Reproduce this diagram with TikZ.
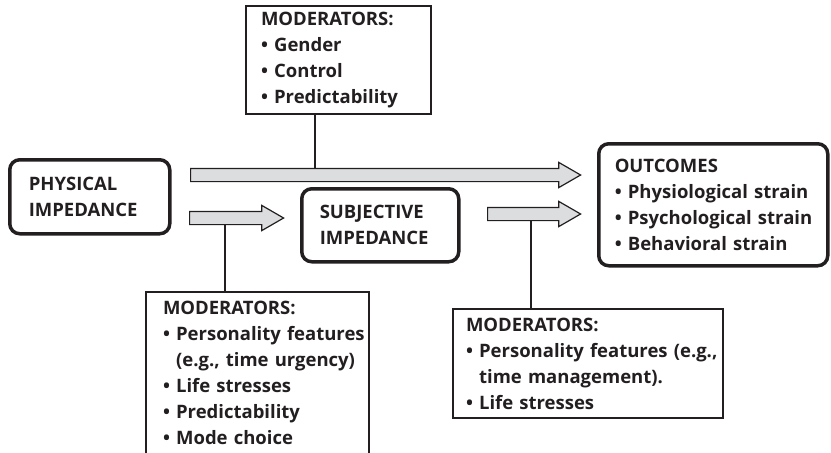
\documentclass[tikz,border=0pt]{standalone}
\usepackage{fontspec}
\setmainfont{Open Sans}
\usepackage{tikz}
\usetikzlibrary{shapes.arrows,positioning}
\definecolor{ink}{HTML}{231F20}
\definecolor{arrowgray}{HTML}{DCDDDE}
% one unbroken line of a list, with or without its bullet
\newcommand{\itm}[1]{\mbox{\textbullet\ #1}}
\newcommand{\cont}[1]{\mbox{\hphantom{\textbullet\ }#1}}
\tikzset
{
    boxtext/.style  = {font=\bfseries\fontsize{18.5}{26}\selectfont, text=ink, align=left, inner sep=0pt},
    stagebox/.style = {boxtext, draw=ink, line width=3.5pt, rounded corners=10pt, anchor=north west},
    modbox/.style   = {boxtext, draw=ink, line width=2pt, anchor=north west},
    flowarrow/.style = {single arrow, draw=ink, fill=arrowgray, line width=1.2pt, inner xsep=0pt, inner ysep=6pt,
                        single arrow head extend=6pt, single arrow tip angle=60, anchor=tail},
    link/.style     = {draw=ink, line width=1.2pt}
}

\begin{document}
\begin{tikzpicture}[x=1pt, y=-1pt]
    \useasboundingbox (0,0) rectangle (831,453);
    \clip (0,0) rectangle (831,453);

    % impedance stages and outcomes
    \node [stagebox, minimum width=160pt, minimum height=74pt, text width=160pt-38pt] (physical) at (8,158)
        {PHYSICAL\\IMPEDANCE};
    \node [stagebox, minimum width=157pt, minimum height=73pt, text width=157pt-36pt] (subjective) at (300,187)
        {SUBJECTIVE\\IMPEDANCE};
    \node [stagebox, minimum width=229pt, minimum height=122pt, text width=229pt-32pt] (outcomes) at (597,142)
        {OUTCOMES\\\itm{Physiological strain}\\\itm{Psychological strain}\\\itm{Behavioral strain}};

    % moderator boxes
    \node [modbox, minimum width=185pt, minimum height=108pt, text width=185pt-30pt] (topmod) at (245,5)
        {MODERATORS:\\\itm{Gender}\\\itm{Control}\\\itm{Predictability}};
    \node [modbox, minimum width=223pt, inner ysep=9pt, text depth=200pt, text width=223pt-34pt] (leftmod) at (145,291)
        {MODERATORS:\\\itm{Personality features}\\\cont{(e.g., time urgency)}\\\itm{Life stresses}\\\itm{Predictability}\\\itm{Mode choice}};
    \node [modbox, minimum width=270pt, minimum height=109pt, text width=270pt-26pt] (rightmod) at (452,308)
        {MODERATORS:\\\itm{Personality features (e.g.,}\\\cont{time management).}\\\itm{Life stresses}};

    % connectors to the arrows
    \draw [link] (topmod.south -| 315,0) -- (315,175);
    \draw [link] (leftmod.north -| 225,0) -- (225,218);
    \draw [link] (rightmod.north -| 531,0) -- (531,214);

    % gray flow arrows
    \node [flowarrow, minimum height=390pt] (longarrow) at (190,175) {};
    \node [flowarrow, minimum height=94pt] (leftarrow) at (189,218) {};
    \node [flowarrow, minimum height=93pt] (rightarrow) at (487,214) {};
\end{tikzpicture}
\end{document}
